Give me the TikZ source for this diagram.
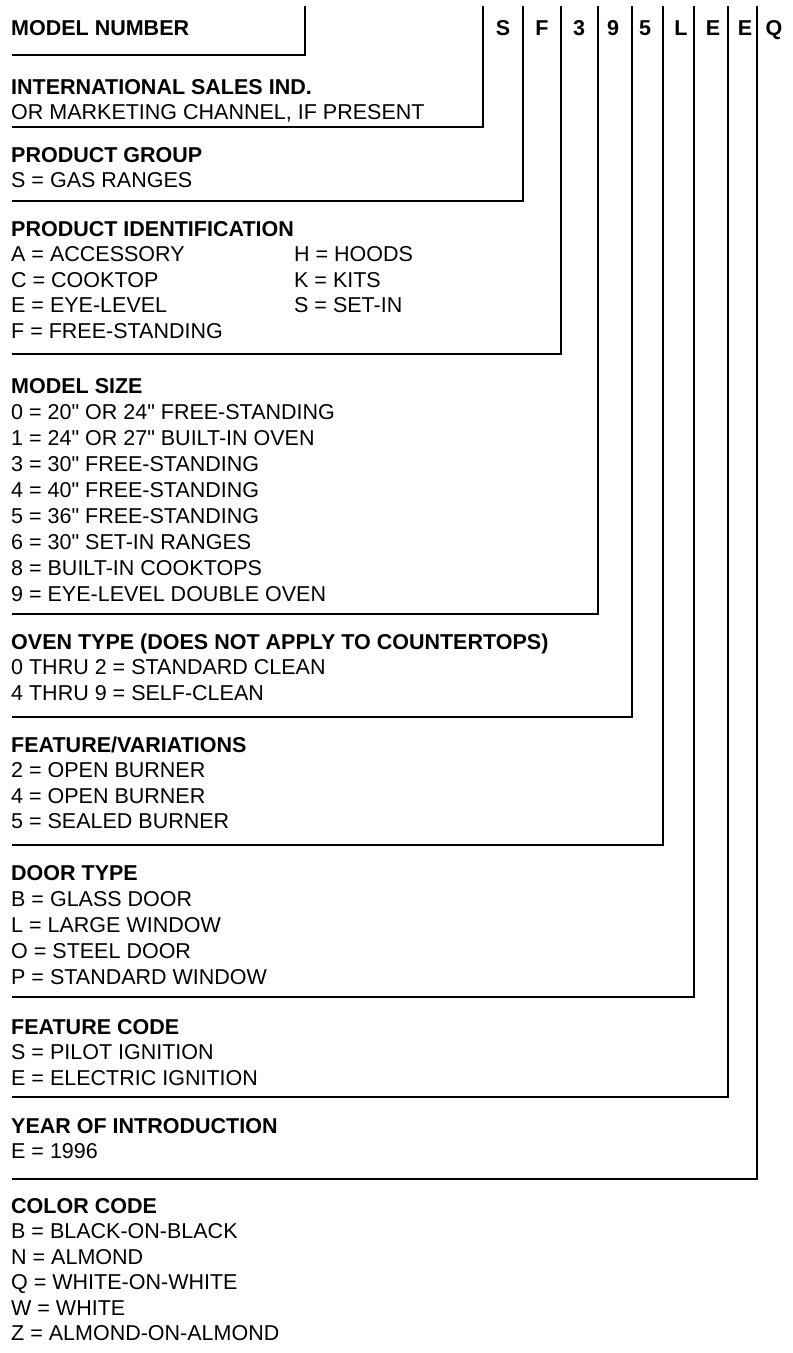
\documentclass[tikz,border=0pt]{standalone}
\usepackage{fontspec}
\setmainfont{Liberation Sans}[Ligatures=TeXOff]
\begin{document}
\begin{tikzpicture}[
    x=1pt, y=-1pt,
    txt/.style={anchor=base west, inner sep=0pt, align=left,
                font=\fontsize{21.5}{25.5}\selectfont},
    digit/.style={anchor=base, inner sep=0pt,
                  font=\fontsize{21.5}{25.5}\selectfont\bfseries},
    lead/.style={line width=2.4pt}
]
\useasboundingbox (0,0) rectangle (793,1353);

% blocks (placed at the baseline of their last line)
\node[txt] (mnum) at (11,35.5) {\textbf{MODEL NUMBER}};
\node[txt] (intl) at (11,119.5) {\textbf{INTERNATIONAL SALES IND.}\\OR MARKETING CHANNEL, IF PRESENT};
\node[txt] (grp) at (11,187.5) {\textbf{PRODUCT GROUP}\\S = GAS RANGES};
\node[txt] (ident) at (11,338) {\textbf{PRODUCT IDENTIFICATION}\\A = ACCESSORY\\C = COOKTOP\\E = EYE-LEVEL\\F = FREE-STANDING};
\node[txt] (ident2) at (294,312.5) {H = HOODS\\K = KITS\\S = SET-IN};
\node[txt, font=\fontsize{21.5}{26}\selectfont] (size) at (11,601) {\textbf{MODEL SIZE}\\0 = 20" OR 24" FREE-STANDING\\1 = 24" OR 27" BUILT-IN OVEN\\3 = 30" FREE-STANDING\\4 = 40" FREE-STANDING\\5 = 36" FREE-STANDING\\6 = 30" SET-IN RANGES\\8 = BUILT-IN COOKTOPS\\9 = EYE-LEVEL DOUBLE OVEN};
\node[txt] (oven) at (11,700) {\textbf{OVEN TYPE (DOES NOT APPLY TO COUNTERTOPS)}\\0 THRU 2 = STANDARD CLEAN\\4 THRU 9 = SELF-CLEAN};
\node[txt] (feat) at (11,828.5) {\textbf{FEATURE/VARIATIONS}\\2 = OPEN BURNER\\4 = OPEN BURNER\\5 = SEALED BURNER};
\node[txt, font=\fontsize{21.5}{26}\selectfont] (door) at (11,984) {\textbf{DOOR TYPE}\\B = GLASS DOOR\\L = LARGE WINDOW\\O = STEEL DOOR\\P = STANDARD WINDOW};
\node[txt] (fcode) at (11,1085) {\textbf{FEATURE CODE}\\S = PILOT IGNITION\\E = ELECTRIC IGNITION};
\node[txt] (year) at (11,1158.5) {\textbf{YEAR OF INTRODUCTION}\\E = 1996};
\node[txt] (color) at (11,1340.5) {\textbf{COLOR CODE}\\B = BLACK-ON-BLACK\\N = ALMOND\\Q = WHITE-ON-WHITE\\W = WHITE\\Z = ALMOND-ON-ALMOND};

% letters of the model number
\node[digit] (dS) at (503,35.5) {S};
\node[digit] (dF) at (542,35.5) {F};
\node[digit] (d3) at (579,35.5) {3};
\node[digit] (d9) at (613,35.5) {9};
\node[digit] (d5) at (645,35.5) {5};
\node[digit] (dL) at (681,35.5) {L};
\node[digit] (dE) at (713,35.5) {E};
\node[digit] (dEE) at (745,35.5) {E};
\node[digit] (dQ) at (774,35.5) {Q};

% leader brackets
\coordinate (t0) at (305,6);  \coordinate (e0) at (12,55);
\coordinate (t1) at (483,6);  \coordinate (e1) at (12,127);
\coordinate (t2) at (523,6);  \coordinate (e2) at (12,201);
\coordinate (t3) at (561,6);  \coordinate (e3) at (12,354);
\coordinate (t4) at (598,6);  \coordinate (e4) at (12,614);
\coordinate (t5) at (632,6);  \coordinate (e5) at (12,717);
\coordinate (t6) at (663,6);  \coordinate (e6) at (12,845);
\coordinate (t7) at (694,6);  \coordinate (e7) at (12,997);
\coordinate (t8) at (728,6);  \coordinate (e8) at (12,1097);
\coordinate (t9) at (757,6);  \coordinate (e9) at (12,1179);

\draw[lead] (t0) |- (e0);
\draw[lead] (t1) |- (e1);
\draw[lead] (t2) |- (e2);
\draw[lead] (t3) |- (e3);
\draw[lead] (t4) |- (e4);
\draw[lead] (t5) |- (e5);
\draw[lead] (t6) |- (e6);
\draw[lead] (t7) |- (e7);
\draw[lead] (t8) |- (e8);
\draw[lead] (t9) |- (e9);
\end{tikzpicture}
\end{document}
